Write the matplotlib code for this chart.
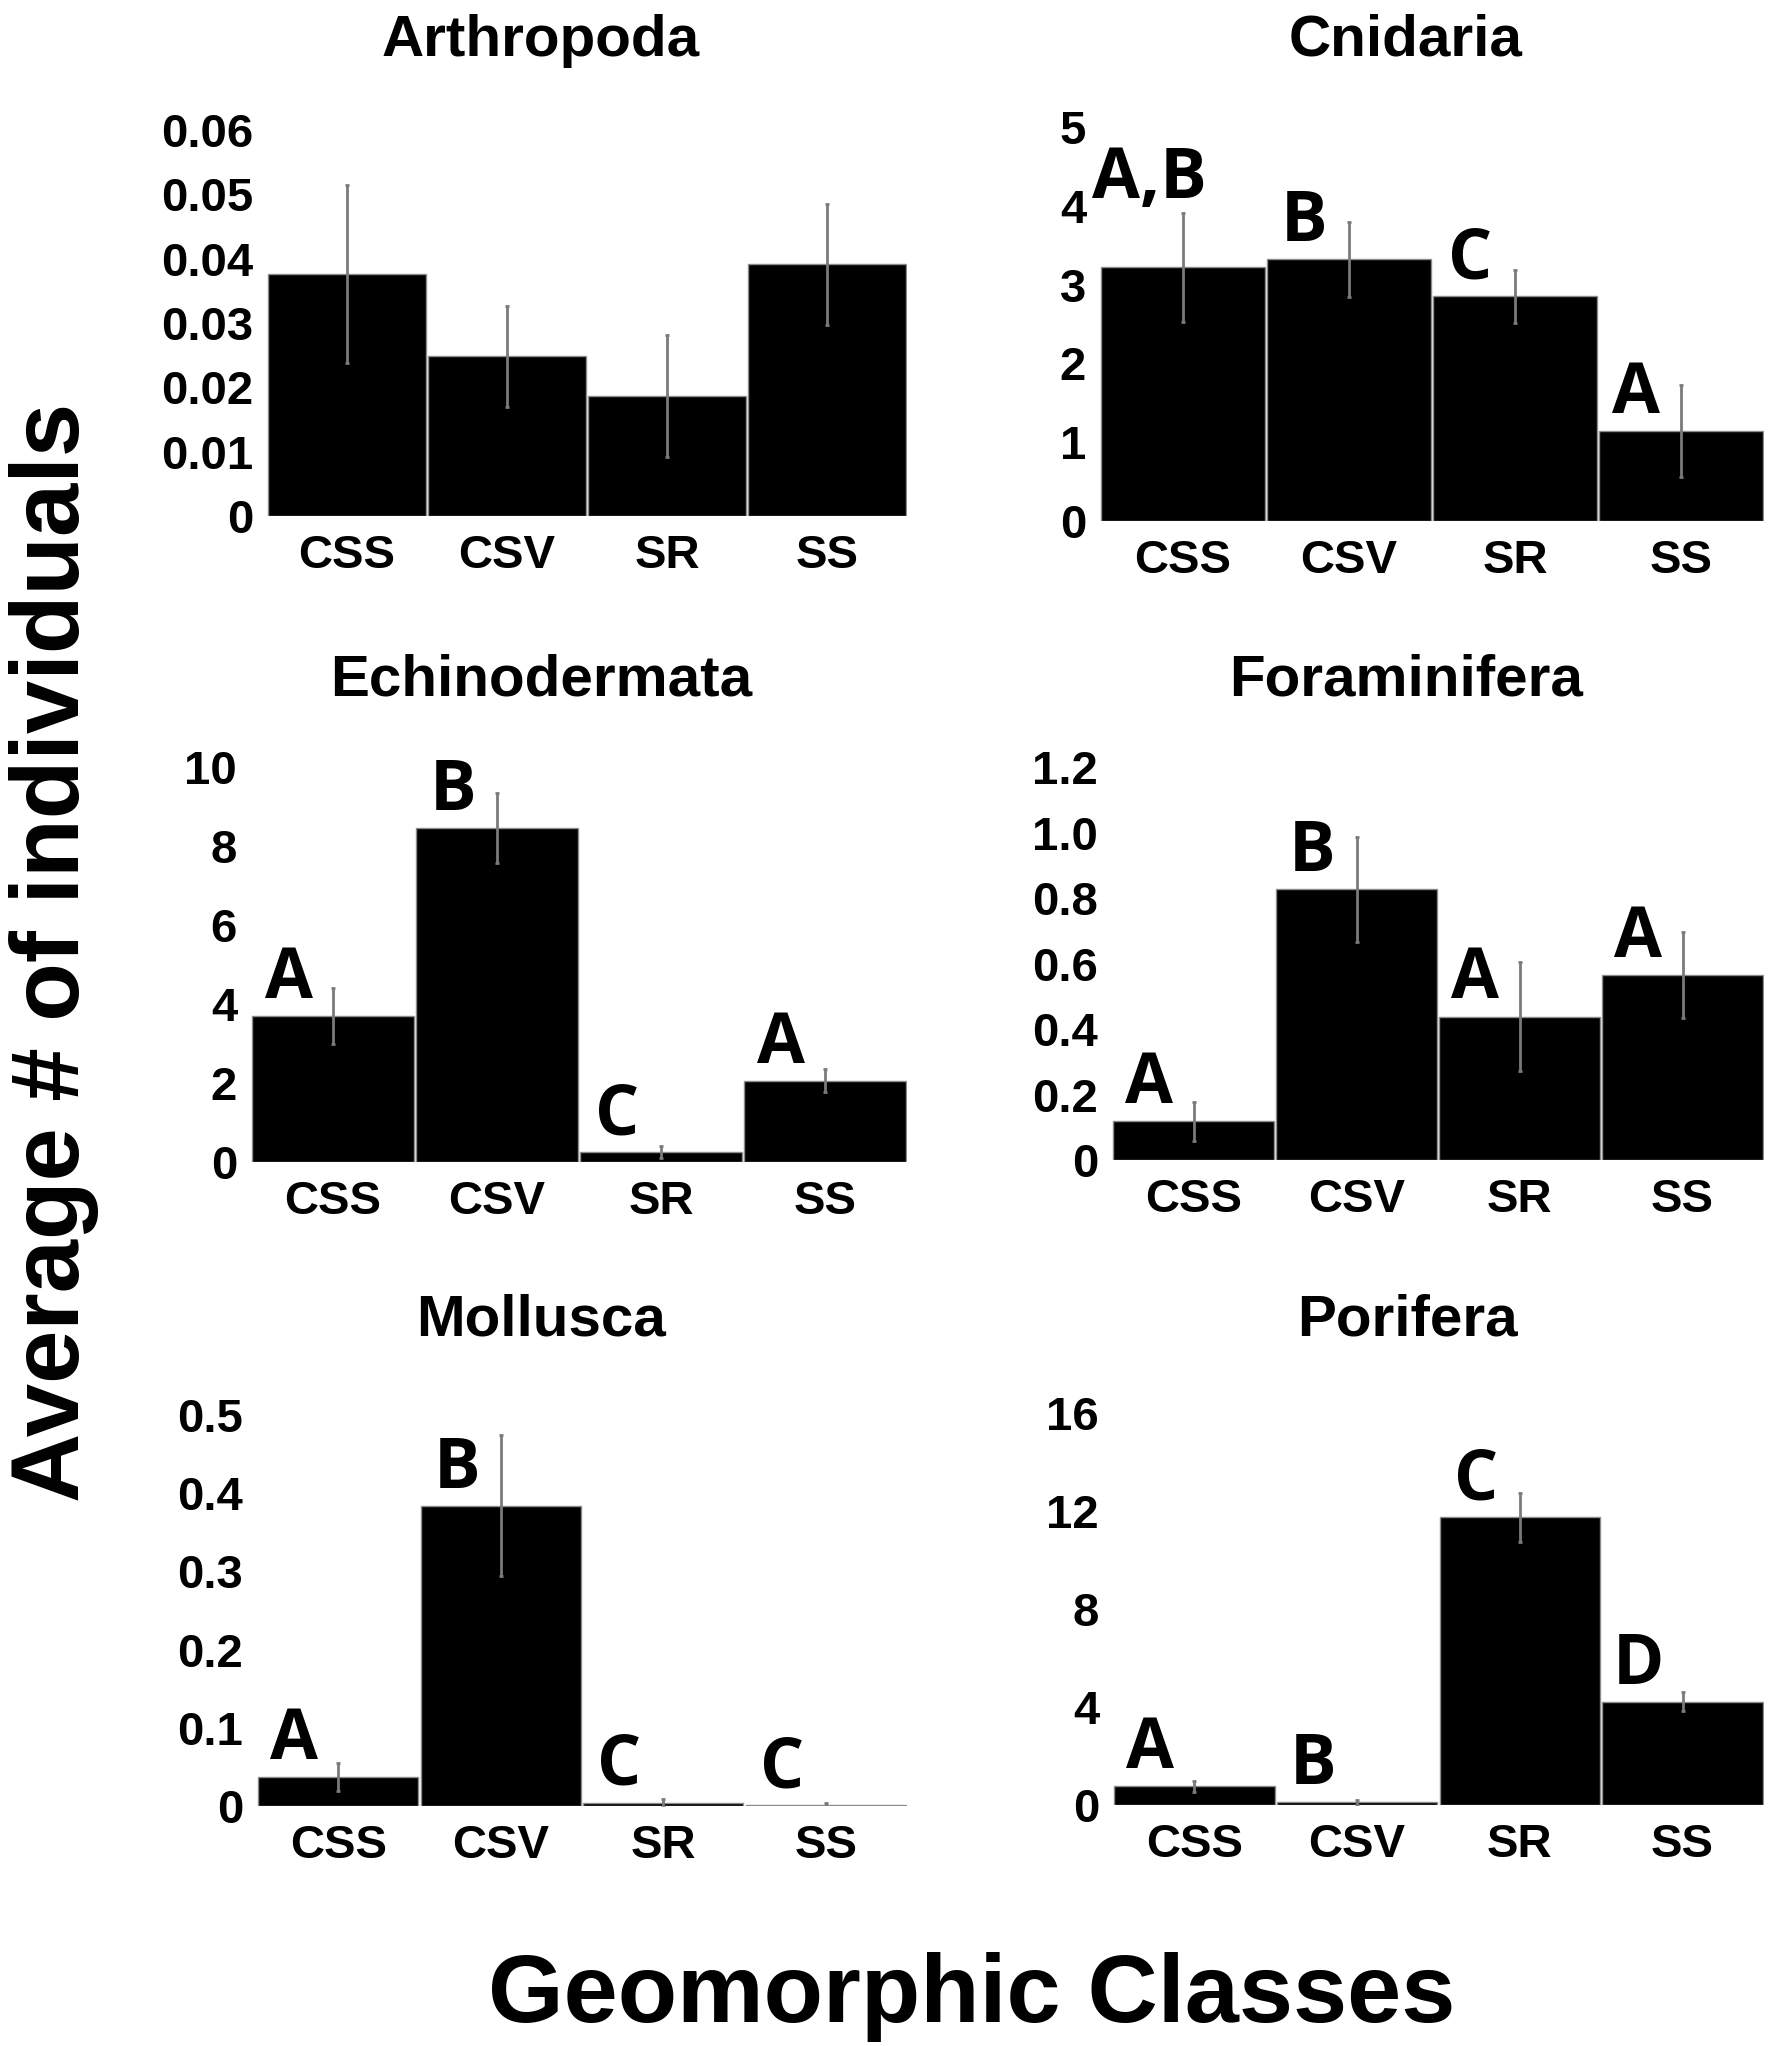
import matplotlib
matplotlib.use("Agg")
import matplotlib.pyplot as plt

# ---------------- data ----------------
classes = ["CSS", "CSV", "SR", "SS"]

arthropoda_mean = [0.0376, 0.0248, 0.0187, 0.0391]
arthropoda_err = [0.0138, 0.0079, 0.0095, 0.0094]
arthropoda_letters = ["", "", "", ""]
arthropoda_ticks = [0, 0.01, 0.02, 0.03, 0.04, 0.05, 0.06]
arthropoda_ticklabels = ["0", "0.01", "0.02", "0.03", "0.04", "0.05", "0.06"]

cnidaria_mean = [3.22, 3.32, 2.85, 1.14]
cnidaria_err = [0.69, 0.48, 0.34, 0.58]
cnidaria_letters = ["A,B", "B", "C", "A"]
cnidaria_ticks = [0, 1, 2, 3, 4, 5]
cnidaria_ticklabels = ["0", "1", "2", "3", "4", "5"]

echino_mean = [3.70, 8.45, 0.25, 2.06]
echino_err = [0.70, 0.89, 0.15, 0.29]
echino_letters = ["A", "B", "C", "A"]
echino_ticks = [0, 2, 4, 6, 8, 10]
echino_ticklabels = ["0", "2", "4", "6", "8", "10"]

foram_mean = [0.118, 0.826, 0.438, 0.565]
foram_err = [0.059, 0.160, 0.167, 0.131]
foram_letters = ["A", "B", "A", "A"]
foram_ticks = [0, 0.2, 0.4, 0.6, 0.8, 1.0, 1.2]
foram_ticklabels = ["0", "0.2", "0.4", "0.6", "0.8", "1.0", "1.2"]

mollusca_mean = [0.0366, 0.384, 0.004, 0.001]
mollusca_err = [0.018, 0.090, 0.005, 0.003]
mollusca_letters = ["A", "B", "C", "C"]
mollusca_ticks = [0, 0.1, 0.2, 0.3, 0.4, 0.5]
mollusca_ticklabels = ["0", "0.1", "0.2", "0.3", "0.4", "0.5"]

porifera_mean = [0.76, 0.12, 11.75, 4.22]
porifera_err = [0.22, 0.10, 1.00, 0.39]
porifera_letters = ["A", "B", "C", "D"]
porifera_ticks = [0, 4, 8, 12, 16]
porifera_ticklabels = ["0", "4", "8", "12", "16"]

titles = ["Arthropoda", "Cnidaria", "Echinodermata", "Foraminifera", "Mollusca", "Porifera"]

panels = [
    (arthropoda_mean, arthropoda_err, arthropoda_letters, arthropoda_ticks, arthropoda_ticklabels),
    (cnidaria_mean, cnidaria_err, cnidaria_letters, cnidaria_ticks, cnidaria_ticklabels),
    (echino_mean, echino_err, echino_letters, echino_ticks, echino_ticklabels),
    (foram_mean, foram_err, foram_letters, foram_ticks, foram_ticklabels),
    (mollusca_mean, mollusca_err, mollusca_letters, mollusca_ticks, mollusca_ticklabels),
    (porifera_mean, porifera_err, porifera_letters, porifera_ticks, porifera_ticklabels),
]

# ---------------- layout (pixels) ----------------
W, H = 1772, 2046
DPI = 100
# (left, right, top, bottom) of each plotting area in pixels
boxes = [
    (267, 907, 130, 516),
    (1100, 1764, 127, 521),
    (251, 907, 767, 1162),
    (1112, 1764, 767, 1160),
    (257, 907, 1415, 1806),
    (1113, 1764, 1413, 1805),
]
title_pos = [(541, 41), (1406, 41), (541, 681), (1406, 681), (541, 1320), (1407, 1320)]
# extra raise (points) for specific letters
letter_raise = {(1, 0): 50}

FONT = "Liberation Sans"
LETTER_FONT = "Open Sans"

fig = plt.figure(figsize=(W / DPI, H / DPI), dpi=DPI)

for k, (mean, err, letters, ticks, ticklabels) in enumerate(panels):
    l, r, t, b = boxes[k]
    ax = fig.add_axes([l / W, 1 - b / H, (r - l) / W, (b - t) / H])
    x = list(range(len(classes)))
    ax.bar(x, mean, width=0.985, color="black", edgecolor="#8c8c8c", linewidth=1.0, zorder=2)
    ax.errorbar(x, mean, yerr=err, fmt="none", ecolor="#7a7a7a", elinewidth=2.0,
                capsize=1.3, capthick=2.0, zorder=3)
    ax.set_xlim(-0.5, 3.5)
    ax.set_ylim(ticks[0], ticks[-1])
    ax.set_yticks(ticks)
    ax.set_yticklabels(ticklabels)
    ax.set_xticks(x)
    ax.set_xticklabels(classes)
    for s in ax.spines.values():
        s.set_visible(False)
    ax.tick_params(axis="both", length=0)
    ax.tick_params(axis="y", pad=10)
    ax.tick_params(axis="x", pad=13)
    for lab in ax.get_yticklabels() + ax.get_xticklabels():
        lab.set_fontfamily(FONT)
        lab.set_fontweight("bold")
        lab.set_fontsize(34)
    ax.patch.set_alpha(0)
    for i, letter in enumerate(letters):
        if not letter:
            continue
        raise_pt = letter_raise.get((k, i), 13)
        dx = -0.2 if "," in letter else -0.27
        ax.annotate(letter, xy=(i + dx, mean[i]), xytext=(0, raise_pt),
                    textcoords="offset points", ha="center", va="baseline",
                    fontsize=50, fontweight="bold", fontfamily=LETTER_FONT,
                    annotation_clip=False, zorder=4)
    tx, ty = title_pos[k]
    fig.text(tx / W, 1 - ty / H, titles[k], ha="center", va="center",
             fontsize=42, fontweight="bold", fontfamily=FONT)

fig.text(54 / W, 1 - 952 / H, "Average # of individuals", rotation=90,
         ha="center", va="center", fontsize=69, fontweight="bold", fontfamily=FONT)
fig.text(972 / W, 1 - 1997 / H, "Geomorphic Classes", ha="center", va="center",
         fontsize=70, fontweight="bold", fontfamily=FONT)

fig.savefig("out.png", dpi=DPI, facecolor="white")
